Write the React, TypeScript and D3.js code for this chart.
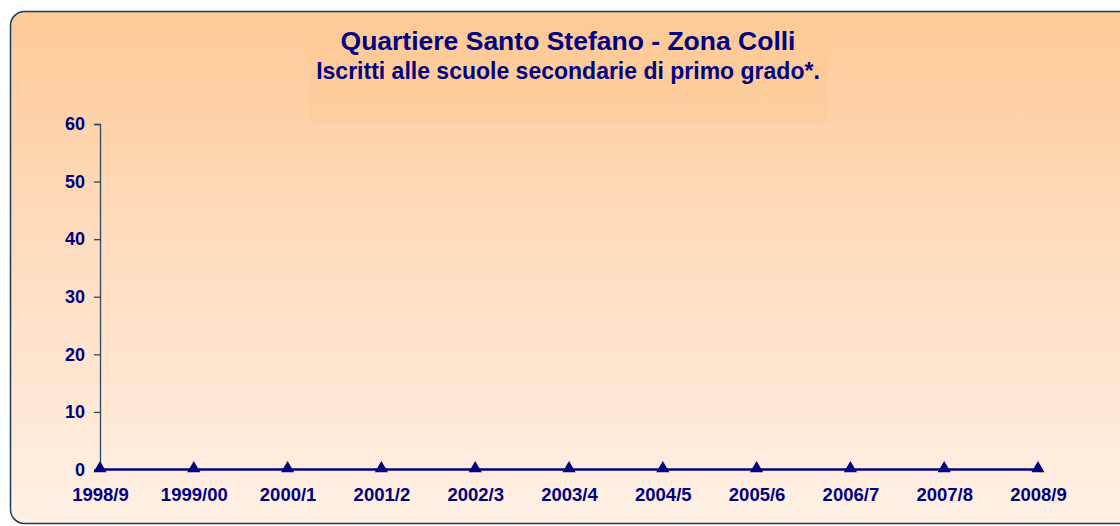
import React, { useEffect, useRef } from "react";
import * as d3 from "d3";

// chart data
const years = [
  "1998/9", "1999/00", "2000/1", "2001/2", "2002/3", "2003/4",
  "2004/5", "2005/6", "2006/7", "2007/8", "2008/9",
];
const enrolled = [0, 0, 0, 0, 0, 0, 0, 0, 0, 0, 0];
const yTicks = [0, 10, 20, 30, 40, 50, 60];

const title = "Quartiere Santo Stefano - Zona Colli";
const subtitle = "Iscritti alle scuole secondarie di primo grado*.";

const W = 1120;
const H = 526;
const navy = "#000080";
const font = "Liberation Sans, Arial, sans-serif";

const App: React.FC = () => {
  const svgRef = useRef<SVGSVGElement | null>(null);

  useEffect(() => {
    const svg = d3.select(svgRef.current);
    svg.selectAll("*").remove();

    const margin = { top: 124, left: 100 };
    const plotH = 345;

    // background gradient
    const defs = svg.append("defs");
    const grad = defs
      .append("linearGradient")
      .attr("id", "bg")
      .attr("x1", 0).attr("y1", 0).attr("x2", 0).attr("y2", 1);
    grad.append("stop").attr("offset", "0%").attr("stop-color", "#FECA98");
    grad.append("stop").attr("offset", "50%").attr("stop-color", "#FEDEC2");
    grad.append("stop").attr("offset", "100%").attr("stop-color", "#FEF1E6");

    svg
      .append("rect")
      .attr("x", 10.5)
      .attr("y", 11.5)
      .attr("width", W + 20)
      .attr("height", 512)
      .attr("rx", 14)
      .attr("fill", "url(#bg)")
      .attr("stroke", "#1F3A5A")
      .attr("stroke-width", 1.5);

    // title box
    svg
      .append("rect")
      .attr("x", 308)
      .attr("y", 20)
      .attr("width", 521)
      .attr("height", 102)
      .attr("fill", "#FEC994")
      .attr("opacity", 0.5);

    svg
      .append("text")
      .attr("x", 568)
      .attr("y", 50)
      .attr("text-anchor", "middle")
      .attr("font-family", font)
      .attr("font-weight", "bold")
      .attr("font-size", 26.5)
      .attr("fill", navy)
      .text(title);

    svg
      .append("text")
      .attr("x", 568)
      .attr("y", 79)
      .attr("text-anchor", "middle")
      .attr("font-family", font)
      .attr("font-weight", "bold")
      .attr("font-size", 23)
      .attr("fill", navy)
      .text(subtitle);

    const chart = svg
      .append("g")
      .attr("transform", `translate(${margin.left}, ${margin.top})`);

    const x = d3.scalePoint().domain(years).range([0, 938]);
    const y = d3.scaleLinear().domain([0, 60]).range([plotH + 0.5, 0]);

    // y axis
    const yAxis = chart
      .append("g")
      .call(d3.axisLeft(y).tickValues(yTicks).tickSize(6).tickPadding(9));
    yAxis.selectAll("path,line").attr("stroke", "#2E4660").attr("stroke-width", 1.3);
    yAxis
      .selectAll("text")
      .attr("fill", navy)
      .attr("font-family", font)
      .attr("font-weight", "bold")
      .attr("font-size", 18);

    // x labels
    const xAxis = chart
      .append("g")
      .attr("transform", `translate(0, ${y(0)})`)
      .call(d3.axisBottom(x).tickSize(0).tickPadding(18));
    xAxis.select(".domain").remove();
    xAxis
      .selectAll("text")
      .attr("fill", navy)
      .attr("font-family", font)
      .attr("font-weight", "bold")
      .attr("font-size", 18.5);

    // series line
    const line = d3
      .line<number>()
      .x((_, i) => x(years[i]) as number)
      .y((d) => y(d));
    chart
      .append("path")
      .datum(enrolled)
      .attr("d", line)
      .attr("fill", "none")
      .attr("stroke", navy)
      .attr("stroke-width", 2.5);

    const tri = d3.symbol().type(d3.symbolTriangle).size(75);
    chart
      .selectAll(".pt")
      .data(enrolled)
      .enter()
      .append("path")
      .attr("class", "pt")
      .attr("d", tri)
      .attr("transform", (d, i) => `translate(${x(years[i])}, ${y(d) - 1})`)
      .attr("fill", navy);
  }, []);

  return (
    <svg
      ref={svgRef}
      width={W}
      height={H}
      style={{ position: "absolute", left: 0, top: 0 }}
    />
  );
};

export default App;
